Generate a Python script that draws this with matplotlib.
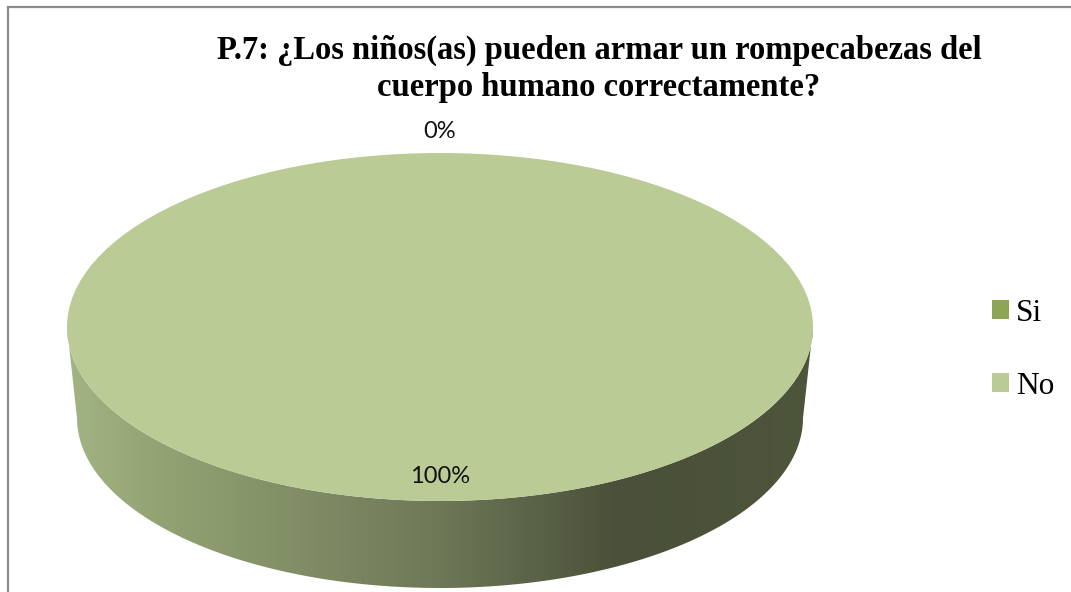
import numpy as np
import matplotlib
matplotlib.use("Agg")
import matplotlib.pyplot as plt
from matplotlib.colors import LinearSegmentedColormap
from matplotlib.patches import Polygon, Rectangle

# ---- data ----
categories = ["Si", "No"]
values = [0, 100]
colors = ["#8DA655", "#BACB95"]
title_lines = ["P.7: ¿Los niños(as) pueden armar un rompecabezas del",
               "cuerpo humano correctamente?"]

W, H = 1071, 592
fig = plt.figure(figsize=(W / 100, H / 100), dpi=100)

# chart frame
fig.patches.append(Rectangle((8 / W, -0.1), 1.2, 1 - 7 / H + 0.1,
                             transform=fig.transFigure, fill=False,
                             edgecolor="#8c8c8c", linewidth=1.6))

# pie axes: unit circle -> ellipse (center 440,327 ; a=373, b=174 px)
cx, cy, a, b = 440, 327, 373, 174
ybot_px = 600
ylo = -(ybot_px - cy) / b
ax = fig.add_axes([(cx - a) / W, (H - ybot_px) / H, 2 * a / W,
                   (ybot_px - (cy - b)) / H])
ax.set_axis_off()

wedges, _ = ax.pie(values, colors=colors, startangle=90, counterclock=False,
                   radius=1.0, wedgeprops=dict(linewidth=0), frame=False)
ax.set_aspect("auto")

# side (3D depth) for each wedge, using the wedge angles
dy = -(418 - cy) / b           # bottom ellipse center offset
a2, b2 = 363 / a, 170 / b      # bottom ellipse radii
grad = LinearSegmentedColormap.from_list(
    "side", [(0.0, "#A3B484"), (0.11, "#95A474"), (0.5, "#6D7857"),
             (0.74, "#4A5039"), (1.0, "#4D553B")])
gimg = np.linspace(0, 1, 512).reshape(1, -1)
for w in wedges:
    t1, t2 = sorted([w.theta1, w.theta2])
    if t2 - t1 <= 0:
        continue
    segs = []
    for k in (-360, 0, 360):
        lo, hi = max(t1, 180 + k), min(t2, 360 + k)
        if hi > lo:
            segs.append((lo, hi))
    for lo, hi in segs:
        th = np.radians(np.linspace(lo, hi, 200))
        top = np.column_stack([np.cos(th), np.sin(th)])
        bot = np.column_stack([a2 * np.cos(th[::-1]), dy + b2 * np.sin(th[::-1])])
        poly = Polygon(np.vstack([top, bot]), closed=True, facecolor="none",
                       edgecolor="none")
        ax.add_patch(poly)
        im = ax.imshow(gimg, cmap=grad, extent=(-1, 1, ylo, 1), aspect="auto",
                       zorder=0.5, interpolation="bilinear")
        im.set_clip_path(poly)
for w in wedges:
    w.set_zorder(2)
ax.set_xlim(-1, 1)
ax.set_ylim(ylo, 1)

# data labels
total = sum(values)
dist = [1.126, 0.862]
for w, v, d in zip(wedges, values, dist):
    mid = np.radians((w.theta1 + w.theta2) / 2)
    ax.text(d * np.cos(mid), d * np.sin(mid), f"{v / total * 100:.0f}%",
            ha="center", va="center", fontsize=17, family="Lato",
            color="#111111", zorder=5, clip_on=False)

# title
fig.text(599 / W, 1 - 59 / H, title_lines[0], ha="center", va="baseline",
         fontsize=23.5, fontweight="bold", family="Liberation Serif")
fig.text(599 / W, 1 - 96 / H, title_lines[1], ha="center", va="baseline",
         fontsize=23.5, fontweight="bold", family="Liberation Serif")

# legend
fig.legend(wedges, categories, loc="upper left",
           bbox_to_anchor=(970 / W, 1 - 277 / H), frameon=False,
           prop=dict(family="Liberation Serif", size=22.5),
           handlelength=0.56, handleheight=0.56, handletextpad=0.22,
           labelspacing=1.4, borderpad=0.2)

fig.savefig("out.png", dpi=100)
